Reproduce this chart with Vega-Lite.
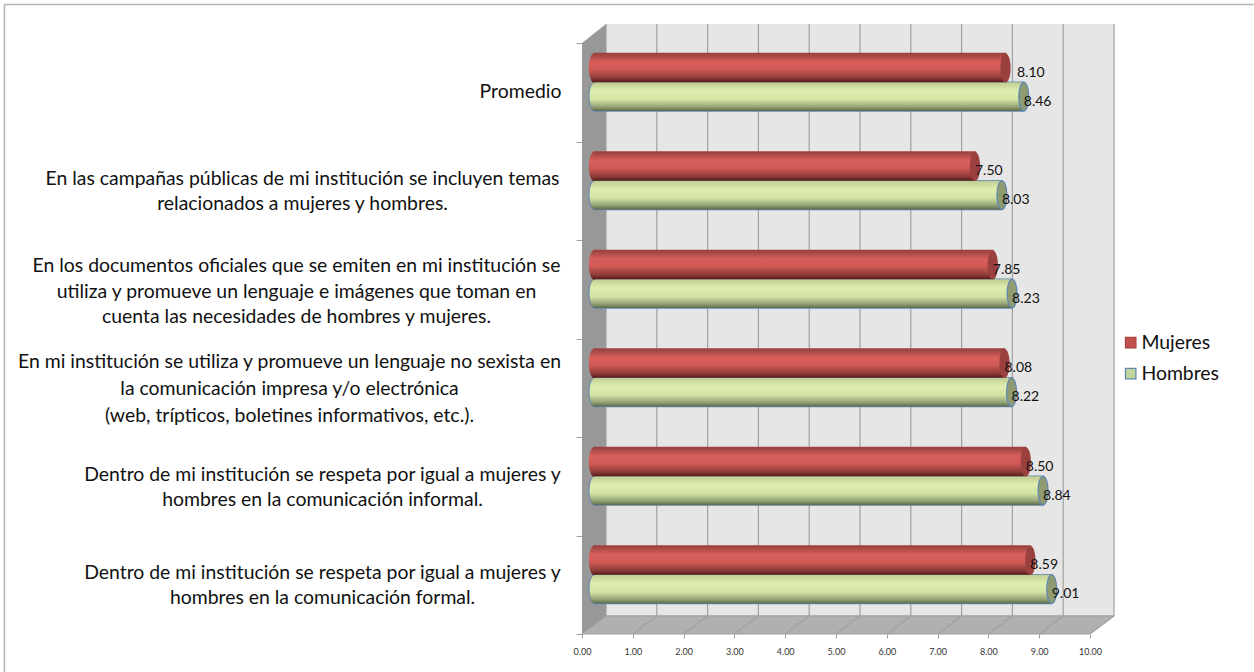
{
  "$schema": "https://vega.github.io/schema/vega-lite/v6.json",
  "width": 532,
  "height": 610,
  "autosize": "none",
  "padding": {"left": 582, "top": 24, "right": 140, "bottom": 38},
  "background": "white",
  "config": {"view": {"stroke": null}, "font": "Lato"},
  "datasets": {
    "barras": [
      {"pregunta": "Promedio", "sexo": "Mujeres", "valor": 8.10},
      {"pregunta": "Promedio", "sexo": "Hombres", "valor": 8.46},
      {"pregunta": "Campañas", "sexo": "Mujeres", "valor": 7.50},
      {"pregunta": "Campañas", "sexo": "Hombres", "valor": 8.03},
      {"pregunta": "Documentos", "sexo": "Mujeres", "valor": 7.85},
      {"pregunta": "Documentos", "sexo": "Hombres", "valor": 8.23},
      {"pregunta": "Lenguaje", "sexo": "Mujeres", "valor": 8.08},
      {"pregunta": "Lenguaje", "sexo": "Hombres", "valor": 8.22},
      {"pregunta": "Informal", "sexo": "Mujeres", "valor": 8.50},
      {"pregunta": "Informal", "sexo": "Hombres", "valor": 8.84},
      {"pregunta": "Formal", "sexo": "Mujeres", "valor": 8.59},
      {"pregunta": "Formal", "sexo": "Hombres", "valor": 9.01}
    ],
    "etiquetas": [
      {"pregunta": "Promedio", "texto": ["Promedio"]},
      {"pregunta": "Campañas", "texto": ["En las campañas públicas de mi institución se incluyen temas", "relacionados a mujeres y hombres."]},
      {"pregunta": "Documentos", "texto": ["En los documentos oficiales que se emiten en mi institución se", "utiliza y promueve un lenguaje e imágenes que toman en", "cuenta las necesidades de hombres y mujeres."]},
      {"pregunta": "Lenguaje", "texto": ["En mi institución se utiliza y promueve un lenguaje no sexista en", "la comunicación impresa y/o electrónica", "(web, trípticos, boletines informativos, etc.)."]},
      {"pregunta": "Informal", "texto": ["Dentro de mi institución se respeta por igual a mujeres y", "hombres en la comunicación informal."]},
      {"pregunta": "Formal", "texto": ["Dentro de mi institución se respeta por igual a mujeres y", "hombres en la comunicación formal."]}
    ],
    "lineas": [
      {"a": 0.4724, "b": 0.4724, "c": 0.183, "d": 6.193},
      {"a": 1.4724, "b": 1.4724, "c": 0.183, "d": 6.193},
      {"a": 2.4724, "b": 2.4724, "c": 0.183, "d": 6.193},
      {"a": 3.4724, "b": 3.4724, "c": 0.183, "d": 6.193},
      {"a": 4.4724, "b": 4.4724, "c": 0.183, "d": 6.193},
      {"a": 5.4724, "b": 5.4724, "c": 0.183, "d": 6.193},
      {"a": 6.4724, "b": 6.4724, "c": 0.183, "d": 6.193},
      {"a": 7.4724, "b": 7.4724, "c": 0.183, "d": 6.193},
      {"a": 8.4724, "b": 8.4724, "c": 0.183, "d": 6.193},
      {"a": 9.4724, "b": 9.4724, "c": 0.183, "d": 6.193},
      {"a": 10.4724, "b": 10.4724, "c": 0.183, "d": 6.193},
      {"a": 0, "b": 0.4724, "c": 0, "d": 0.183},
      {"a": 1, "b": 1.4724, "c": 0, "d": 0.183},
      {"a": 2, "b": 2.4724, "c": 0, "d": 0.183},
      {"a": 3, "b": 3.4724, "c": 0, "d": 0.183},
      {"a": 4, "b": 4.4724, "c": 0, "d": 0.183},
      {"a": 5, "b": 5.4724, "c": 0, "d": 0.183},
      {"a": 6, "b": 6.4724, "c": 0, "d": 0.183},
      {"a": 7, "b": 7.4724, "c": 0, "d": 0.183},
      {"a": 8, "b": 8.4724, "c": 0, "d": 0.183},
      {"a": 9, "b": 9.4724, "c": 0, "d": 0.183},
      {"a": 10, "b": 10.4724, "c": 0, "d": 0.183},
      {"a": 0, "b": 10, "c": 0, "d": 0},
      {"a": 0.4724, "b": 10.4724, "c": 0.183, "d": 0.183}
    ],
    "paredLateral": [
      {"a": 0, "c": 0, "d": 6},
      {"a": 0.4724, "c": 0.183, "d": 6.193}
    ],
    "piso": [
      {"a": 0, "b": 10, "c": 0},
      {"a": 0.4724, "b": 10.4724, "c": 0.183}
    ],
    "paredFondo": [{"a": 0.4724, "b": 10.4724, "c": 0.183, "d": 6.193}],
    "marco": [
      {"a": -11.37, "b": 13.22, "c": 6.391, "d": 6.391},
      {"a": -11.37, "b": -11.37, "c": 6.391, "d": -0.386}
    ]
  },
  "resolve": {"scale": {"y": "independent"}},
  "layer": [
    {
      "data": {"name": "marco"},
      "mark": {"type": "rule", "color": "#b4b4b4", "strokeWidth": 1.5},
      "encoding": {
        "x": {
          "field": "a", "type": "quantitative", "title": null,
          "scale": {"domain": [0, 10.4724], "zero": false, "nice": false},
          "axis": {
            "orient": "bottom",
            "values": [0, 1, 2, 3, 4, 5, 6, 7, 8, 9, 10],
            "format": ".2f",
            "title": null,
            "domain": false,
            "grid": false,
            "tickSize": 4,
            "tickColor": "#a0a0a0",
            "labelFont": "Lato",
            "labelFontSize": 9,
            "labelColor": "#333333",
            "labelPadding": 9,
            "labelBound": false,
            "labelFlush": false,
            "labelOverlap": false
          }
        },
        "x2": {"field": "b"},
        "y": {
          "field": "c", "type": "quantitative", "title": null,
          "scale": {"domain": [0, 6.193], "zero": false, "nice": false},
          "axis": {"orient": "left", "values": [0, 1, 2, 3, 4, 5, 6], "labels": false, "domain": false, "grid": false, "tickSize": 6, "tickColor": "#a0a0a0", "title": null}
        },
        "y2": {"field": "d"}
      }
    },
    {
      "data": {"name": "paredLateral"},
      "mark": {"type": "area", "color": "#989898", "opacity": 1},
      "encoding": {
        "x": {"field": "a", "type": "quantitative", "title": null, "scale": {"domain": [0, 10.4724], "zero": false, "nice": false}},
        "y": {"field": "c", "type": "quantitative", "scale": {"domain": [0, 6.193], "zero": false, "nice": false}, "axis": null},
        "y2": {"field": "d"}
      }
    },
    {
      "data": {"name": "piso"},
      "mark": {"type": "area", "orient": "horizontal", "color": "#b0b0b0", "opacity": 1},
      "encoding": {
        "x": {"field": "a", "type": "quantitative", "title": null, "scale": {"domain": [0, 10.4724], "zero": false, "nice": false}},
        "x2": {"field": "b"},
        "y": {"field": "c", "type": "quantitative", "scale": {"domain": [0, 6.193], "zero": false, "nice": false}, "axis": null}
      }
    },
    {
      "data": {"name": "paredFondo"},
      "mark": {"type": "rect", "color": "#e6e6e6"},
      "encoding": {
        "x": {"field": "a", "type": "quantitative", "title": null, "scale": {"domain": [0, 10.4724], "zero": false, "nice": false}},
        "x2": {"field": "b"},
        "y": {"field": "c", "type": "quantitative", "scale": {"domain": [0, 6.193], "zero": false, "nice": false}, "axis": null},
        "y2": {"field": "d"}
      }
    },
    {
      "data": {"name": "lineas"},
      "mark": {"type": "rule", "color": "#a0a0a0", "strokeWidth": 1.2},
      "encoding": {
        "x": {"field": "a", "type": "quantitative", "title": null, "scale": {"domain": [0, 10.4724], "zero": false, "nice": false}},
        "x2": {"field": "b"},
        "y": {"field": "c", "type": "quantitative", "scale": {"domain": [0, 6.193], "zero": false, "nice": false}, "axis": null},
        "y2": {"field": "d"}
      }
    },
    {
      "data": {"name": "barras"},
      "mark": {"type": "bar", "xOffset": 12, "x2Offset": 12, "strokeWidth": 1.5},
      "encoding": {
        "y": {"field": "pregunta", "type": "nominal", "sort": null, "title": null, "scale": {"domain": ["Promedio", "Campañas", "Documentos", "Lenguaje", "Informal", "Formal"], "range": [19, 610], "paddingInner": 0, "paddingOuter": 0}, "axis": null},
        "yOffset": {"field": "sexo", "type": "nominal", "sort": null, "scale": {"domain": ["Mujeres", "Hombres"], "range": [10.5, 68], "paddingInner": 0, "paddingOuter": 0}},
        "x": {"field": "valor", "type": "quantitative", "stack": null, "title": null, "scale": {"domain": [0, 10.4724], "zero": false, "nice": false}},
        "x2": {"datum": 0},
        "fill": {
          "field": "sexo", "type": "nominal",
          "scale": {"domain": ["Mujeres", "Hombres"], "range": ["#c0504d", "#c3d69b"]},
          "legend": {
            "title": null,
            "orient": "none",
            "legendX": 539,
            "legendY": 309,
            "symbolType": "square",
            "symbolSize": 110,
            "labelFont": "Lato",
            "labelFontSize": 19.4,
            "labelColor": "#111111",
            "rowPadding": 10,
            "labelOffset": 1,
            "symbolStrokeWidth": 1.2
          }
        },
        "stroke": {"field": "sexo", "type": "nominal", "scale": {"domain": ["Mujeres", "Hombres"], "range": ["#a8403d", "#5f86b3"]}}
      }
    },
    {
      "data": {"name": "barras"},
      "transform": [{"filter": "datum.sexo == 'Hombres'"}],
      "mark": {
        "type": "point", "filled": true, "opacity": 1, "xOffset": 12, "size": 810,
        "shape": "M0,-1 A0.35,1 0 1,1 0,1 A0.35,1 0 1,1 0,-1 Z",
        "stroke": "#5f86b3", "strokeWidth": 1,
        "fill": {"gradient": "linear", "x1": 0, "y1": 0, "x2": 0, "y2": 1, "stops": [
          {"offset": 0, "color": "#bfcc93"},
          {"offset": 0.3, "color": "#deeeae"},
          {"offset": 0.6, "color": "#d3e3a4"},
          {"offset": 0.85, "color": "#96a577"},
          {"offset": 1, "color": "#5c6a4a"}
        ]}
      },
      "encoding": {
        "y": {"field": "pregunta", "type": "nominal", "sort": null, "scale": {"domain": ["Promedio", "Campañas", "Documentos", "Lenguaje", "Informal", "Formal"], "range": [19, 610], "paddingInner": 0, "paddingOuter": 0}, "axis": null},
        "yOffset": {"field": "sexo", "type": "nominal", "sort": null},
        "x": {"datum": 0, "type": "quantitative", "title": null, "scale": {"domain": [0, 10.4724], "zero": false, "nice": false}}
      }
    },
    {
      "data": {"name": "barras"},
      "transform": [{"filter": "datum.sexo == 'Hombres'"}],
      "mark": {
        "type": "bar", "xOffset": 12, "x2Offset": 12,
        "fill": {"gradient": "linear", "x1": 0, "y1": 0, "x2": 0, "y2": 1, "stops": [
          {"offset": 0, "color": "#bfcc93"},
          {"offset": 0.3, "color": "#deeeae"},
          {"offset": 0.6, "color": "#d3e3a4"},
          {"offset": 0.85, "color": "#96a577"},
          {"offset": 1, "color": "#5c6a4a"}
        ]}
      },
      "encoding": {
        "y": {"field": "pregunta", "type": "nominal", "sort": null, "scale": {"domain": ["Promedio", "Campañas", "Documentos", "Lenguaje", "Informal", "Formal"], "range": [19, 610], "paddingInner": 0, "paddingOuter": 0}, "axis": null},
        "yOffset": {"field": "sexo", "type": "nominal", "sort": null},
        "x": {"field": "valor", "type": "quantitative", "stack": null, "title": null, "scale": {"domain": [0, 10.4724], "zero": false, "nice": false}},
        "x2": {"datum": 0}
      }
    },
    {
      "data": {"name": "barras"},
      "transform": [{"filter": "datum.sexo == 'Hombres'"}],
      "mark": {
        "type": "point", "filled": true, "opacity": 1, "xOffset": 12, "size": 810,
        "shape": "M0,-1 A0.35,1 0 1,1 0,1 A0.35,1 0 1,1 0,-1 Z",
        "stroke": "#5f86b3", "strokeWidth": 1.2, "fill": "#8f9c72"
      },
      "encoding": {
        "y": {"field": "pregunta", "type": "nominal", "sort": null, "scale": {"domain": ["Promedio", "Campañas", "Documentos", "Lenguaje", "Informal", "Formal"], "range": [19, 610], "paddingInner": 0, "paddingOuter": 0}, "axis": null},
        "yOffset": {"field": "sexo", "type": "nominal", "sort": null},
        "x": {"field": "valor", "type": "quantitative", "title": null, "scale": {"domain": [0, 10.4724], "zero": false, "nice": false}}
      }
    },
    {
      "data": {"name": "barras"},
      "transform": [{"filter": "datum.sexo == 'Mujeres'"}],
      "mark": {
        "type": "point", "filled": true, "opacity": 1, "xOffset": 12, "size": 860,
        "shape": "M0,-1 A0.35,1 0 1,1 0,1 A0.35,1 0 1,1 0,-1 Z",
        "fill": {"gradient": "linear", "x1": 0, "y1": 0, "x2": 0, "y2": 1, "stops": [
          {"offset": 0, "color": "#96423f"},
          {"offset": 0.3, "color": "#d95f5b"},
          {"offset": 0.55, "color": "#d05a56"},
          {"offset": 0.85, "color": "#8f3b38"},
          {"offset": 1, "color": "#521a19"}
        ]}
      },
      "encoding": {
        "y": {"field": "pregunta", "type": "nominal", "sort": null, "scale": {"domain": ["Promedio", "Campañas", "Documentos", "Lenguaje", "Informal", "Formal"], "range": [19, 610], "paddingInner": 0, "paddingOuter": 0}, "axis": null},
        "yOffset": {"field": "sexo", "type": "nominal", "sort": null},
        "x": {"datum": 0, "type": "quantitative", "title": null, "scale": {"domain": [0, 10.4724], "zero": false, "nice": false}}
      }
    },
    {
      "data": {"name": "barras"},
      "transform": [{"filter": "datum.sexo == 'Mujeres'"}],
      "mark": {
        "type": "bar", "xOffset": 12, "x2Offset": 12,
        "fill": {"gradient": "linear", "x1": 0, "y1": 0, "x2": 0, "y2": 1, "stops": [
          {"offset": 0, "color": "#96423f"},
          {"offset": 0.3, "color": "#d95f5b"},
          {"offset": 0.55, "color": "#d05a56"},
          {"offset": 0.85, "color": "#8f3b38"},
          {"offset": 1, "color": "#521a19"}
        ]}
      },
      "encoding": {
        "y": {"field": "pregunta", "type": "nominal", "sort": null, "scale": {"domain": ["Promedio", "Campañas", "Documentos", "Lenguaje", "Informal", "Formal"], "range": [19, 610], "paddingInner": 0, "paddingOuter": 0}, "axis": null},
        "yOffset": {"field": "sexo", "type": "nominal", "sort": null},
        "x": {"field": "valor", "type": "quantitative", "stack": null, "title": null, "scale": {"domain": [0, 10.4724], "zero": false, "nice": false}},
        "x2": {"datum": 0}
      }
    },
    {
      "data": {"name": "barras"},
      "transform": [{"filter": "datum.sexo == 'Mujeres'"}],
      "mark": {
        "type": "point", "filled": true, "opacity": 1, "xOffset": 12, "size": 860,
        "shape": "M0,-1 A0.35,1 0 1,1 0,1 A0.35,1 0 1,1 0,-1 Z",
        "fill": "#9a403e"
      },
      "encoding": {
        "y": {"field": "pregunta", "type": "nominal", "sort": null, "scale": {"domain": ["Promedio", "Campañas", "Documentos", "Lenguaje", "Informal", "Formal"], "range": [19, 610], "paddingInner": 0, "paddingOuter": 0}, "axis": null},
        "yOffset": {"field": "sexo", "type": "nominal", "sort": null},
        "x": {"field": "valor", "type": "quantitative", "title": null, "scale": {"domain": [0, 10.4724], "zero": false, "nice": false}}
      }
    },
    {
      "data": {"name": "barras"},
      "transform": [{"filter": "datum.valor != 8.10"}],
      "mark": {"type": "text", "align": "left", "baseline": "middle", "dx": 12, "dy": 5, "font": "Lato", "fontSize": 14, "color": "#111111"},
      "encoding": {
        "y": {"field": "pregunta", "type": "nominal", "sort": null, "scale": {"domain": ["Promedio", "Campañas", "Documentos", "Lenguaje", "Informal", "Formal"], "range": [19, 610], "paddingInner": 0, "paddingOuter": 0}, "axis": null},
        "yOffset": {"field": "sexo", "type": "nominal", "sort": null},
        "x": {"field": "valor", "type": "quantitative", "title": null, "scale": {"domain": [0, 10.4724], "zero": false, "nice": false}},
        "text": {"field": "valor", "type": "quantitative", "format": ".2f"}
      }
    },
    {
      "data": {"name": "barras"},
      "transform": [{"filter": "datum.valor == 8.10"}],
      "mark": {"type": "text", "align": "left", "baseline": "middle", "dx": 23.5, "dy": 5, "font": "Lato", "fontSize": 14, "color": "#111111"},
      "encoding": {
        "y": {"field": "pregunta", "type": "nominal", "sort": null, "scale": {"domain": ["Promedio", "Campañas", "Documentos", "Lenguaje", "Informal", "Formal"], "range": [19, 610], "paddingInner": 0, "paddingOuter": 0}, "axis": null},
        "yOffset": {"field": "sexo", "type": "nominal", "sort": null},
        "x": {"field": "valor", "type": "quantitative", "title": null, "scale": {"domain": [0, 10.4724], "zero": false, "nice": false}},
        "text": {"field": "valor", "type": "quantitative", "format": ".2f"}
      }
    },
    {
      "data": {"name": "etiquetas"},
      "transform": [{"filter": "datum.pregunta == 'Promedio'"}],
      "mark": {"type": "text", "align": "center", "baseline": "middle", "dx": -61.5, "dy": 0, "lineHeight": 25.5, "font": "Lato", "fontSize": 19.4, "color": "#111111"},
      "encoding": {
        "y": {"field": "pregunta", "type": "nominal", "sort": null, "scale": {"domain": ["Promedio", "Campañas", "Documentos", "Lenguaje", "Informal", "Formal"], "range": [19, 610], "paddingInner": 0, "paddingOuter": 0}, "axis": null},
        "x": {"datum": 0, "type": "quantitative", "title": null, "scale": {"domain": [0, 10.4724], "zero": false, "nice": false}},
        "text": {"field": "texto", "type": "nominal"}
      }
    },
    {
      "data": {"name": "etiquetas"},
      "transform": [{"filter": "datum.pregunta == 'Campañas'"}],
      "mark": {"type": "text", "align": "center", "baseline": "middle", "dx": -279.5, "dy": -12, "lineHeight": 25.5, "font": "Lato", "fontSize": 19.4, "color": "#111111"},
      "encoding": {
        "y": {"field": "pregunta", "type": "nominal", "sort": null, "scale": {"domain": ["Promedio", "Campañas", "Documentos", "Lenguaje", "Informal", "Formal"], "range": [19, 610], "paddingInner": 0, "paddingOuter": 0}, "axis": null},
        "x": {"datum": 0, "type": "quantitative", "title": null, "scale": {"domain": [0, 10.4724], "zero": false, "nice": false}},
        "text": {"field": "texto", "type": "nominal"}
      }
    },
    {
      "data": {"name": "etiquetas"},
      "transform": [{"filter": "datum.pregunta == 'Documentos'"}],
      "mark": {"type": "text", "align": "center", "baseline": "middle", "dx": -285.5, "dy": -23, "lineHeight": 25.5, "font": "Lato", "fontSize": 19.4, "color": "#111111"},
      "encoding": {
        "y": {"field": "pregunta", "type": "nominal", "sort": null, "scale": {"domain": ["Promedio", "Campañas", "Documentos", "Lenguaje", "Informal", "Formal"], "range": [19, 610], "paddingInner": 0, "paddingOuter": 0}, "axis": null},
        "x": {"datum": 0, "type": "quantitative", "title": null, "scale": {"domain": [0, 10.4724], "zero": false, "nice": false}},
        "text": {"field": "texto", "type": "nominal"}
      }
    },
    {
      "data": {"name": "etiquetas"},
      "transform": [{"filter": "datum.pregunta == 'Lenguaje'"}],
      "mark": {"type": "text", "align": "center", "baseline": "middle", "dx": -292.5, "dy": -26, "lineHeight": 27, "font": "Lato", "fontSize": 19.4, "color": "#111111"},
      "encoding": {
        "y": {"field": "pregunta", "type": "nominal", "sort": null, "scale": {"domain": ["Promedio", "Campañas", "Documentos", "Lenguaje", "Informal", "Formal"], "range": [19, 610], "paddingInner": 0, "paddingOuter": 0}, "axis": null},
        "x": {"datum": 0, "type": "quantitative", "title": null, "scale": {"domain": [0, 10.4724], "zero": false, "nice": false}},
        "text": {"field": "texto", "type": "nominal"}
      }
    },
    {
      "data": {"name": "etiquetas"},
      "transform": [{"filter": "datum.pregunta == 'Informal' || datum.pregunta == 'Formal'"}],
      "mark": {"type": "text", "align": "center", "baseline": "middle", "dx": -259.5, "dy": -11.5, "lineHeight": 25, "font": "Lato", "fontSize": 19.4, "color": "#111111"},
      "encoding": {
        "y": {"field": "pregunta", "type": "nominal", "sort": null, "scale": {"domain": ["Promedio", "Campañas", "Documentos", "Lenguaje", "Informal", "Formal"], "range": [19, 610], "paddingInner": 0, "paddingOuter": 0}, "axis": null},
        "x": {"datum": 0, "type": "quantitative", "title": null, "scale": {"domain": [0, 10.4724], "zero": false, "nice": false}},
        "text": {"field": "texto", "type": "nominal"}
      }
    }
  ]
}
